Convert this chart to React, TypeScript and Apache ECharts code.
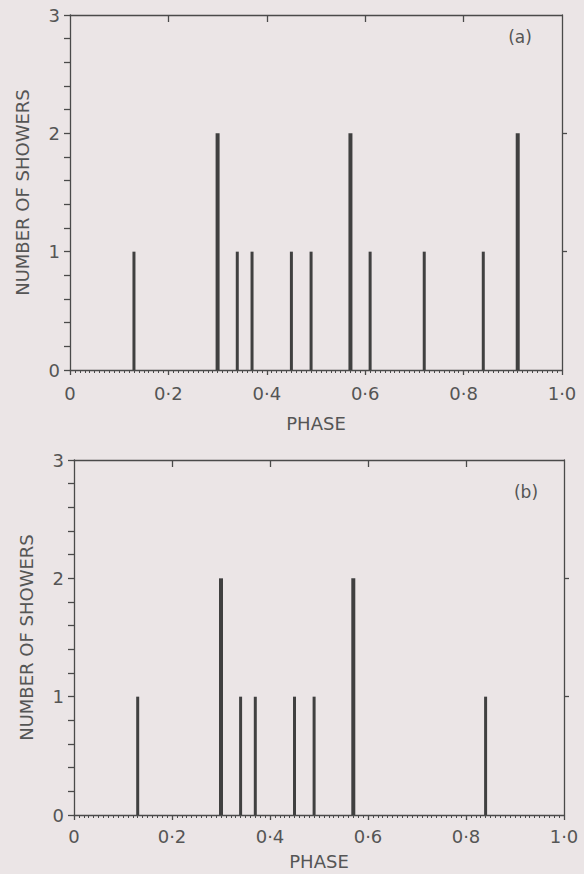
import React, { useEffect, useRef } from "react";
import * as echarts from "echarts";

// Panel (a): phase of each shower and the number of showers at that phase
const phasesA = [0.13, 0.30, 0.34, 0.37, 0.45, 0.49, 0.57, 0.61, 0.72, 0.84, 0.91];
const countsA = [1, 2, 1, 1, 1, 1, 2, 1, 1, 1, 2];
// Panel (b)
const phasesB = [0.13, 0.30, 0.34, 0.37, 0.45, 0.49, 0.57, 0.84];
const countsB = [1, 2, 1, 1, 1, 1, 2, 1];

const xTickLabels = ["0", "0·2", "0·4", "0·6", "0·8", "1·0"];
const yTickLabels = ["0", "1", "2", "3"];
const panelLabels = ["(a)", "(b)"];
const xName = "PHASE";
const yName = "NUMBER OF SHOWERS";

const BG = "#ebe5e6";
const INK = "#4a4a4a";
const TXT = "#555555";
const FONT = "DejaVu Sans";

export default function App() {
  const ref = useRef<HTMLDivElement>(null);

  useEffect(() => {
    if (!ref.current) return;
    const chart = echarts.init(ref.current, undefined, { renderer: "svg" });

    const lineStyle = { color: INK, width: 1.3 };
    const grids = [
      { left: 70, top: 15, width: 492, height: 355 },
      { left: 74, top: 460, width: 490, height: 355 },
    ];
    const labelMargins = [14, 12];
    const nameGaps = [44, 37];

    const xAxes: any[] = [];
    const yAxes: any[] = [];
    grids.forEach((_, g) => {
      xAxes.push({
        type: "value",
        gridIndex: g,
        position: "bottom",
        min: 0,
        max: 1,
        interval: 0.2,
        axisLine: { show: true, onZero: false, lineStyle },
        axisTick: { show: true, inside: false, length: 5, lineStyle },
        minorTick: { show: true, splitNumber: 20, length: 3, lineStyle: { color: INK, width: 1 } },
        splitLine: { show: false },
        minorSplitLine: { show: false },
        axisLabel: {
          margin: labelMargins[g],
          fontSize: 18,
          color: TXT,
          fontFamily: FONT,
          formatter: (v: number) => xTickLabels[Math.round(v / 0.2)] ?? "",
        },
        name: xName,
        nameLocation: "middle",
        nameGap: nameGaps[g],
        nameTextStyle: { fontSize: 18, color: TXT, fontFamily: FONT },
      });
      xAxes.push({
        type: "value",
        gridIndex: g,
        position: "top",
        min: 0,
        max: 1,
        interval: 0.2,
        axisLine: { show: true, onZero: false, lineStyle },
        axisTick: { show: true, inside: true, length: 7, lineStyle, customValues: [0.2, 0.4, 0.6, 0.8] },
        splitLine: { show: false },
        axisLabel: { show: false },
      });
      yAxes.push({
        type: "value",
        gridIndex: g,
        position: "left",
        min: 0,
        max: 3,
        interval: 1,
        axisLine: { show: true, onZero: false, lineStyle },
        axisTick: { show: true, inside: false, length: 6, lineStyle },
        minorTick: { show: true, splitNumber: 5, length: 6, lineStyle },
        splitLine: { show: false },
        minorSplitLine: { show: false },
        axisLabel: {
          margin: 10,
          fontSize: 18,
          color: TXT,
          fontFamily: FONT,
          formatter: (v: number) => yTickLabels[Math.round(v)] ?? "",
        },
        name: yName,
        nameLocation: "middle",
        nameGap: 39,
        nameRotate: 90,
        nameTextStyle: { fontSize: 18, color: TXT, fontFamily: FONT },
      });
      yAxes.push({
        type: "value",
        gridIndex: g,
        position: "right",
        min: 0,
        max: 3,
        interval: 1,
        axisLine: { show: true, onZero: false, lineStyle },
        axisTick: { show: true, inside: false, length: 5, lineStyle, customValues: [1, 2] },
        splitLine: { show: false },
        axisLabel: { show: false },
      });
    });

    const renderItem = (params: any, api: any) => {
      const x = api.value(0);
      const y = api.value(1);
      const top = api.coord([x, y]);
      const base = api.coord([x, 0]);
      const w = y >= 2 ? 4 : 3;
      return {
        type: "rect",
        shape: { x: top[0] - w / 2, y: top[1], width: w, height: base[1] - top[1] },
        style: { fill: "#404040" },
      };
    };

    const mk = (ph: number[], ct: number[]) => ph.map((p, i) => [p, ct[i]]);

    chart.setOption({
      animation: false,
      backgroundColor: BG,
      grid: grids,
      xAxis: xAxes,
      yAxis: yAxes,
      series: [
        {
          type: "custom",
          xAxisIndex: 0,
          yAxisIndex: 0,
          renderItem,
          encode: { x: 0, y: 1 },
          data: mk(phasesA, countsA),
          z: 1,
        },
        {
          type: "custom",
          xAxisIndex: 2,
          yAxisIndex: 2,
          renderItem,
          encode: { x: 0, y: 1 },
          data: mk(phasesB, countsB),
          z: 1,
        },
      ],
      graphic: [
        {
          type: "text",
          x: 520,
          y: 37,
          style: {
            text: panelLabels[0],
            fontSize: 17,
            fill: TXT,
            fontFamily: FONT,
            align: "center",
            verticalAlign: "middle",
          },
        },
        {
          type: "text",
          x: 526,
          y: 492,
          style: {
            text: panelLabels[1],
            fontSize: 17,
            fill: TXT,
            fontFamily: FONT,
            align: "center",
            verticalAlign: "middle",
          },
        },
      ],
    });

    return () => chart.dispose();
  }, []);

  return (
    <div
      ref={ref}
      style={{ position: "fixed", left: 0, top: 0, width: 584, height: 874, background: BG }}
    />
  );
}
